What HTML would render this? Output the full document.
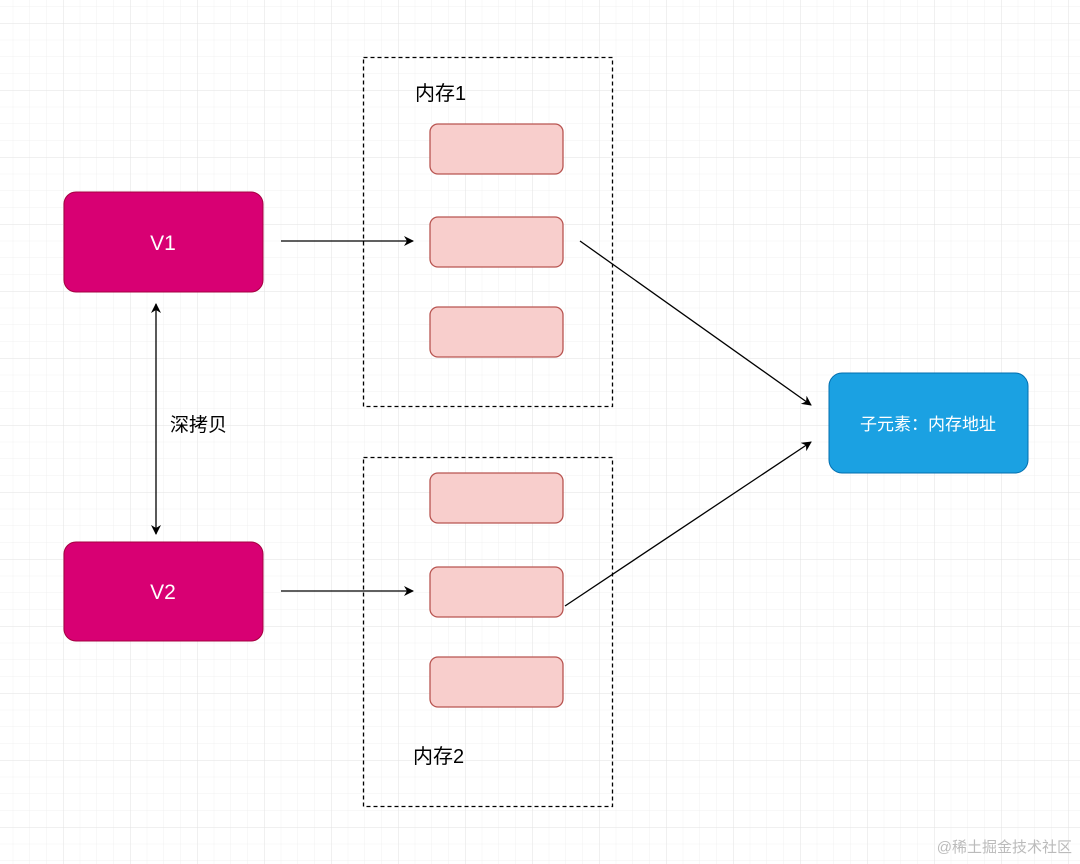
<!DOCTYPE html>
<html><head><meta charset="utf-8"><style>
html,body{margin:0;padding:0;background:#fff}
svg{display:block}
text{font-family:"Liberation Sans","Noto Sans CJK SC",sans-serif}
</style></head><body>
<svg width="1080" height="864" viewBox="0 0 1080 864" xmlns="http://www.w3.org/2000/svg">
<defs>
<pattern id="minor" x="-4" y="23" width="16.75" height="16.75" patternUnits="userSpaceOnUse">
<path d="M0 0H16.75M0 0V16.75" stroke="#f0f0f0" stroke-width="1" fill="none"/>
</pattern>
<pattern id="major" x="-4" y="23" width="67" height="67" patternUnits="userSpaceOnUse">
<path d="M0 0H67M0 0V67" stroke="#e2e2e2" stroke-width="1" fill="none"/>
</pattern>
<marker id="ah" markerWidth="10" markerHeight="10" refX="9" refY="5" orient="auto" markerUnits="userSpaceOnUse">
<path d="M0 0L10 5L0 10L3 5Z" fill="#000"/>
</marker>
<marker id="as" markerWidth="10" markerHeight="10" refX="1" refY="5" orient="auto" markerUnits="userSpaceOnUse">
<path d="M10 0L0 5L10 10L7 5Z" fill="#000"/>
</marker>
</defs>
<rect width="1080" height="864" fill="#fff"/>
<rect width="1080" height="864" fill="url(#minor)"/>
<rect width="1080" height="864" fill="url(#major)"/>

<!-- dashed containers -->
<rect x="363.5" y="57.5" width="249" height="349" fill="none" stroke="#000" stroke-width="1.3" stroke-dasharray="4 3"/>
<rect x="363.5" y="457.5" width="249" height="349" fill="none" stroke="#000" stroke-width="1.3" stroke-dasharray="4 3"/>
<text x="415" y="100" font-size="20" fill="#000">内存1</text>
<text x="413" y="763" font-size="20" fill="#000">内存2</text>

<!-- pink boxes -->
<g fill="#f8cecc" stroke="#b85450" stroke-width="1.3">
<rect x="430" y="124" width="133" height="50" rx="8"/>
<rect x="430" y="217" width="133" height="50" rx="8"/>
<rect x="430" y="307" width="133" height="50" rx="8"/>
<rect x="430" y="473" width="133" height="50" rx="8"/>
<rect x="430" y="567" width="133" height="50" rx="8"/>
<rect x="430" y="657" width="133" height="50" rx="8"/>
</g>

<!-- V boxes -->
<rect x="64" y="192" width="199" height="100" rx="12" fill="#d80073" stroke="#a50040" stroke-width="1"/>
<text x="163" y="250" font-size="21" fill="#fff" text-anchor="middle">V1</text>
<rect x="64" y="542" width="199" height="99" rx="12" fill="#d80073" stroke="#a50040" stroke-width="1"/>
<text x="163" y="599" font-size="21" fill="#fff" text-anchor="middle">V2</text>

<!-- blue box -->
<rect x="829" y="373" width="199" height="100" rx="13" fill="#1ba1e2" stroke="#006eaf" stroke-width="1"/>
<text x="928" y="430" font-size="17" fill="#fff" text-anchor="middle">子元素：内存地址</text>

<!-- arrows -->
<g stroke="#000" stroke-width="1.3" fill="none">
<line x1="281" y1="241" x2="413" y2="241" marker-end="url(#ah)"/>
<line x1="281" y1="591" x2="413" y2="591" marker-end="url(#ah)"/>
<line x1="580" y1="241" x2="811" y2="405" marker-end="url(#ah)"/>
<line x1="565" y1="606" x2="811" y2="442" marker-end="url(#ah)"/>
<line x1="156" y1="304" x2="156" y2="534" marker-start="url(#as)" marker-end="url(#ah)"/>
</g>
<text x="170" y="431" font-size="19" fill="#000">深拷贝</text>

<text x="1072" y="852" font-size="15" fill="#bbb" text-anchor="end">@稀土掘金技术社区</text>
</svg>
</body></html>
